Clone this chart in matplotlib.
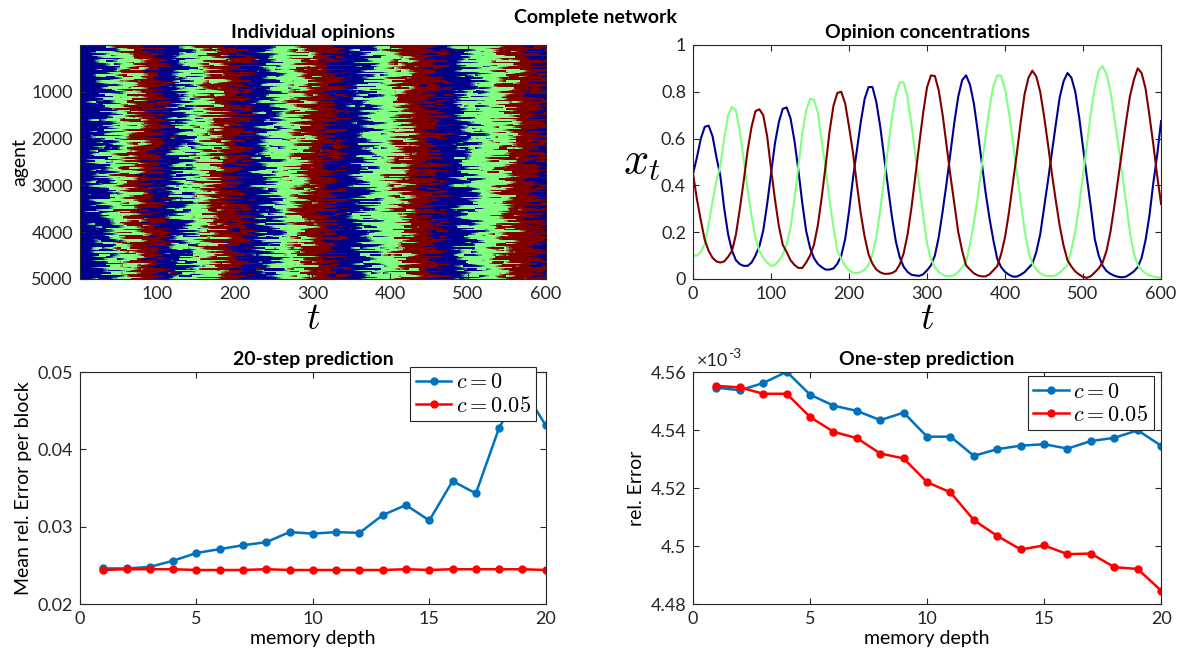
import numpy as np
import matplotlib
matplotlib.use("Agg")
import matplotlib.pyplot as plt
from matplotlib.colors import to_rgb
from matplotlib.ticker import FuncFormatter

plt.rcParams['font.family'] = ['Lato', 'DejaVu Sans']
plt.rcParams['mathtext.fontset'] = 'cm'

# opinion concentrations, sampled every 5 steps
t_grid = np.arange(0, 601, 5)
x_blue = [0.45, 0.52, 0.60, 0.65, 0.655, 0.61, 0.52, 0.44, 0.30, 0.19,
          0.12, 0.08, 0.063, 0.056, 0.056, 0.07, 0.10, 0.14, 0.207, 0.32,
          0.45, 0.58, 0.67, 0.727, 0.733, 0.686, 0.59, 0.466, 0.325, 0.205,
          0.133, 0.089, 0.064, 0.05, 0.04, 0.04, 0.045, 0.065, 0.10, 0.17,
          0.29, 0.43, 0.55, 0.67, 0.77, 0.82, 0.82, 0.755, 0.65, 0.52,
          0.39, 0.265, 0.16, 0.092, 0.052, 0.03, 0.018, 0.015, 0.013, 0.02,
          0.037, 0.058, 0.10, 0.18, 0.29, 0.41, 0.54, 0.67, 0.78, 0.85,
          0.87, 0.83, 0.75, 0.63, 0.50, 0.37, 0.26, 0.165, 0.085, 0.05,
          0.03, 0.018, 0.01, 0.01, 0.018, 0.029, 0.047, 0.065, 0.115, 0.19,
          0.305, 0.42, 0.54, 0.66, 0.776, 0.845, 0.88, 0.86, 0.80, 0.69,
          0.56, 0.43, 0.305, 0.17, 0.10, 0.057, 0.034, 0.022, 0.014, 0.009,
          0.007, 0.01, 0.02, 0.032, 0.05, 0.09, 0.165, 0.27, 0.41, 0.53,
          0.675]
x_green = [0.10, 0.10, 0.115, 0.15, 0.235, 0.33, 0.42, 0.485, 0.60, 0.70,
           0.735, 0.72, 0.63, 0.51, 0.38, 0.27, 0.175, 0.12, 0.09, 0.07,
           0.056, 0.06, 0.078, 0.104, 0.148, 0.22, 0.34, 0.48, 0.62, 0.72,
           0.77, 0.765, 0.71, 0.585, 0.47, 0.335, 0.22, 0.12, 0.085, 0.055,
           0.037, 0.027, 0.025, 0.03, 0.04, 0.06, 0.106, 0.18, 0.295, 0.425,
           0.56, 0.69, 0.79, 0.84, 0.84, 0.775, 0.66, 0.53, 0.40, 0.27,
           0.15, 0.085, 0.05, 0.03, 0.018, 0.012, 0.012, 0.016, 0.03, 0.05,
           0.075, 0.147, 0.24, 0.35, 0.48, 0.61, 0.73, 0.825, 0.87, 0.868,
           0.81, 0.71, 0.585, 0.457, 0.33, 0.21, 0.115, 0.065, 0.04, 0.025,
           0.016, 0.012, 0.012, 0.015, 0.026, 0.043, 0.06, 0.125, 0.205, 0.316,
           0.446, 0.578, 0.71, 0.82, 0.89, 0.91, 0.875, 0.805, 0.69, 0.575,
           0.45, 0.33, 0.20, 0.11, 0.06, 0.038, 0.024, 0.015, 0.01, 0.007,
           0.005]
x_red = [0.45, 0.34, 0.25, 0.167, 0.12, 0.09, 0.075, 0.07, 0.075, 0.095,
         0.12, 0.19, 0.30, 0.42, 0.55, 0.65, 0.717, 0.725, 0.70, 0.61,
         0.47, 0.34, 0.226, 0.146, 0.115, 0.08, 0.06, 0.047, 0.047, 0.07,
         0.10, 0.146, 0.23, 0.35, 0.485, 0.63, 0.74, 0.795, 0.80, 0.75,
         0.65, 0.54, 0.405, 0.28, 0.18, 0.105, 0.065, 0.04, 0.028, 0.022,
         0.022, 0.025, 0.035, 0.062, 0.11, 0.19, 0.305, 0.44, 0.578, 0.71,
         0.82, 0.87, 0.867, 0.805, 0.70, 0.57, 0.44, 0.32, 0.20, 0.12,
         0.058, 0.04, 0.024, 0.015, 0.011, 0.011, 0.02, 0.037, 0.055, 0.107,
         0.18, 0.285, 0.41, 0.535, 0.67, 0.79, 0.86, 0.89, 0.865, 0.80,
         0.695, 0.575, 0.45, 0.335, 0.227, 0.142, 0.08, 0.053, 0.032, 0.019,
         0.008, 0.005, 0.012, 0.028, 0.045, 0.07, 0.12, 0.20, 0.31, 0.43,
         0.55, 0.67, 0.78, 0.85, 0.90, 0.88, 0.815, 0.70, 0.575, 0.44,
         0.32]

# prediction errors vs memory depth
depth = np.arange(1, 21)
err20_c0 = [0.0246, 0.0246, 0.0248, 0.0256, 0.0266, 0.0271, 0.0276, 0.0280, 0.0293, 0.0291,
            0.0293, 0.0292, 0.0315, 0.0328, 0.0308, 0.0359, 0.0343, 0.0428, 0.0480, 0.0431]
err20_c005 = [0.0244, 0.0245, 0.0245, 0.0245, 0.0244, 0.0244, 0.0244, 0.0245, 0.0244, 0.0244,
              0.0244, 0.0244, 0.0244, 0.0245, 0.0244, 0.0245, 0.0245, 0.0245, 0.0245, 0.0244]
# one-step errors in units of 1e-3
err1_c0 = [4.5546, 4.5537, 4.5562, 4.5601, 4.5522, 4.5484, 4.5466, 4.5434, 4.5460, 4.5377,
           4.5377, 4.5311, 4.5334, 4.5346, 4.5351, 4.5336, 4.5362, 4.5373, 4.5399, 4.5346]
err1_c005 = [4.5552, 4.5547, 4.5525, 4.5525, 4.5445, 4.5394, 4.5372, 4.5319, 4.5302, 4.5220,
             4.5185, 4.5089, 4.5035, 4.4988, 4.5002, 4.4972, 4.4974, 4.4927, 4.4921, 4.4846]

op_colors = ['#00008f', '#80ff80', '#800000']
c_blue = '#0072bd'
c_red = '#ff0000'
ink = '#262626'


def hash01(a, b):
    # deterministic scramble in [0, 1)
    v = np.sin(a * 12.9898 + b * 78.233) * 43758.5453
    return v - np.floor(v)


# individual opinions: agents follow the leading opinion with a lag; small
# groups of neighbouring agents share the same lag, which changes from one
# stretch of steps to the next
n_agents, n_steps = 5000, 600
tt = np.arange(n_steps + 1)
conc = np.vstack([np.interp(tt, t_grid, x) for x in (x_blue, x_green, x_red)])
leader = conc.argmax(axis=0)
agent = np.arange(n_agents, dtype=float)[:, None]
group = np.floor(agent / 30)
step = np.arange(1, n_steps + 1)[None, :]
seg_len = 10 + 36 * hash01(group, 1.0)
seg = np.floor((step + seg_len * hash01(group, 2.0)) / seg_len)
lag = 44 * (hash01(group * 0.37 + seg * 1.13, seg * 0.71 + 3.0) - 0.5)
lag = lag + 10 * (hash01(agent * 0.53 + seg, 7.0) - 0.5)
knots = np.arange(0, n_agents + 400, 400)
drift = np.interp(agent, knots, 12 * (hash01(knots, 5.0) - 0.5))
t_eff = np.clip(np.rint(step - lag - drift), 0, n_steps).astype(int)
opinions = leader[t_eff]

rgb = np.array([to_rgb(c) for c in op_colors])[opinions]
# average neighbouring agents in blocks of ten
rgb = rgb.reshape(-1, 10, n_steps, 3).mean(axis=1)

fig = plt.figure(figsize=(11.91, 6.61), dpi=100)


def style(ax):
    ax.tick_params(direction='in', top=True, right=True, length=4, width=0.8,
                   colors=ink, labelsize=13, pad=5)
    for s in ax.spines.values():
        s.set_color(ink)
        s.set_linewidth(0.8)


ax1 = fig.add_axes([0.0672, 0.578, 0.391, 0.354])
ax1.imshow(rgb, aspect='auto', interpolation='nearest',
           extent=[0.5, n_steps + 0.5, n_agents + 0.5, 0.5])
ax1.set_xticks([100, 200, 300, 400, 500, 600])
ax1.set_yticks([1000, 2000, 3000, 4000, 5000])
ax1.set_title('Individual opinions', fontweight='bold', fontsize=14, pad=5)
ax1.set_xlabel('$t$', fontsize=27, labelpad=-1.5)
ax1.set_ylabel('agent', fontsize=14, labelpad=2)
style(ax1)

ax2 = fig.add_axes([0.5819, 0.578, 0.393, 0.354])
for x, c in zip((x_blue, x_green, x_red), op_colors):
    ax2.plot(t_grid, x, color=c, lw=1.5)
ax2.set_xlim(0, 600)
ax2.set_ylim(0, 1)
ax2.set_xticks(range(0, 601, 100))
ax2.set_yticks([0, 0.2, 0.4, 0.6, 0.8, 1])
ax2.yaxis.set_major_formatter(FuncFormatter(lambda v, p: f'{v:g}'))
ax2.set_title('Opinion concentrations', fontweight='bold', fontsize=14, pad=5)
ax2.set_xlabel('$t$', fontsize=27, labelpad=-1.5)
ax2.set_ylabel('$x_t$', fontsize=32, rotation=0, labelpad=14, va='center')
style(ax2)

ax3 = fig.add_axes([0.0672, 0.0862, 0.391, 0.351])
ax3.plot(depth, err20_c0, '-o', color=c_blue, lw=1.8, ms=5, label='$c = 0$')
ax3.plot(depth, err20_c005, '-o', color=c_red, lw=1.8, ms=5, label='$c = 0.05$')
ax3.set_xlim(0, 20)
ax3.set_ylim(0.02, 0.05)
ax3.set_xticks([0, 5, 10, 15, 20])
ax3.set_yticks([0.02, 0.03, 0.04, 0.05])
ax3.set_title('20-step prediction', fontweight='bold', fontsize=14, pad=5)
ax3.set_xlabel('memory depth', fontsize=14, labelpad=2)
ax3.set_ylabel('Mean rel. Error per block', fontsize=14, labelpad=4)
style(ax3)
leg = ax3.legend(loc='upper right', bbox_to_anchor=(0.98, 1.022), fontsize=16,
                 handlelength=1.6, handletextpad=0.2, borderpad=0.25, labelspacing=0.15,
                 borderaxespad=0, fancybox=False, framealpha=1, edgecolor=ink)
leg.get_frame().set_linewidth(0.8)

ax4 = fig.add_axes([0.5819, 0.0862, 0.393, 0.351])
ax4.plot(depth, np.array(err1_c0) * 1e-3, '-o', color=c_blue, lw=1.8, ms=5, label='$c = 0$')
ax4.plot(depth, np.array(err1_c005) * 1e-3, '-o', color=c_red, lw=1.8, ms=5, label='$c = 0.05$')
ax4.set_xlim(0, 20)
ax4.set_ylim(4.48e-3, 4.56e-3)
ax4.set_xticks([0, 5, 10, 15, 20])
ax4.set_yticks(np.array([4.48, 4.50, 4.52, 4.54, 4.56]) * 1e-3)
ax4.yaxis.set_major_formatter(FuncFormatter(lambda v, p: f'{round(v * 1e3, 2):g}'))
ax4.text(0.008, 1.012, '×10', transform=ax4.transAxes, fontsize=13,
         color=ink, ha='left', va='bottom')
ax4.text(0.074, 1.05, '-3', transform=ax4.transAxes, fontsize=10,
         color=ink, ha='left', va='bottom')
ax4.set_title('One-step prediction', fontweight='bold', fontsize=14, pad=5)
ax4.set_xlabel('memory depth', fontsize=14, labelpad=2)
ax4.set_ylabel('rel. Error', fontsize=14, labelpad=4)
style(ax4)
leg = ax4.legend(loc='upper right', bbox_to_anchor=(0.985, 0.983), fontsize=16,
                 handlelength=1.6, handletextpad=0.2, borderpad=0.25, labelspacing=0.15,
                 borderaxespad=0, fancybox=False, framealpha=1, edgecolor=ink)
leg.get_frame().set_linewidth(0.8)

fig.text(0.5, 0.974, 'Complete network', ha='center', va='center',
         fontweight='bold', fontsize=14)

fig.savefig('out.png', dpi=100)
